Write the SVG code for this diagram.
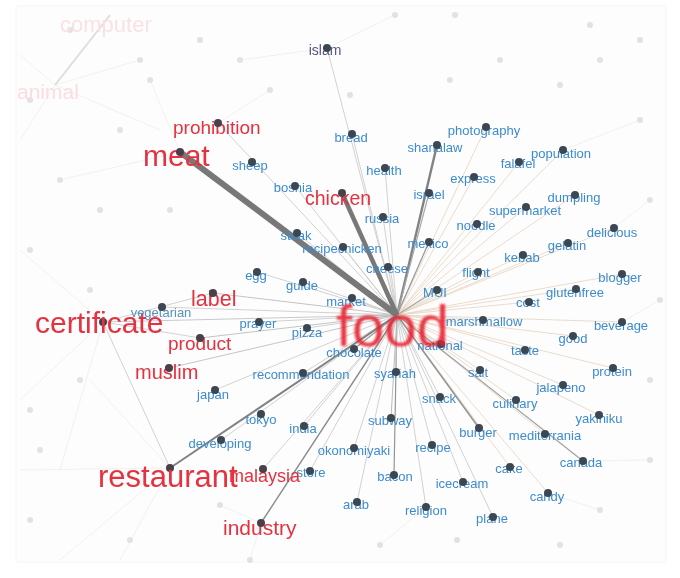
<svg xmlns="http://www.w3.org/2000/svg" width="680" height="578" viewBox="0 0 680 578">
<defs>
<style>
text{font-family:"Liberation Sans",Arial,sans-serif;}
.lb{fill:#3d8bcf;text-anchor:middle;font-size:13px;}
.lr{fill:#e5323f;}
.dot{fill:#3b4752;}
.rdot{fill:#4a4048;}
.bgd{fill:#e2e2e2;}
.bgl{stroke:#eeeeee;stroke-width:0.8;fill:none;}
.e{stroke:#c6c6c6;stroke-width:0.8;}
.et{stroke:#e6d3bf;stroke-width:0.8;}
.em{stroke:#959595;stroke-width:1.2;}
.ed{stroke:#828282;stroke-width:2;}
.eh{stroke:#787878;}
</style>
<filter id="blur1" x="-10%" y="-10%" width="120%" height="120%"><feGaussianBlur stdDeviation="1"/></filter>
<filter id="blur05" x="-5%" y="-5%" width="110%" height="110%"><feGaussianBlur stdDeviation="0.45"/></filter>
</defs>
<rect width="680" height="578" fill="#ffffff"/>
<rect x="16" y="6" width="650" height="556" fill="#fdfdfd" stroke="#f5f5f5"/>

<g id="background" filter="url(#blur05)">
<line class="bgl" x1="55" y1="85" x2="110" y2="15" style="stroke:#dedede;stroke-width:2"/>
<line class="bgl" x1="55" y1="85" x2="20" y2="55"/>
<line class="bgl" x1="55" y1="85" x2="160" y2="130"/>
<line class="bgl" x1="55" y1="85" x2="20" y2="140"/>
<line class="bgl" x1="55" y1="85" x2="140" y2="60"/>
<line class="bgl" x1="103" y1="322" x2="20" y2="250"/>
<line class="bgl" x1="103" y1="322" x2="20" y2="400"/>
<line class="bgl" x1="103" y1="322" x2="60" y2="470"/>
<line class="bgl" x1="170" y1="468" x2="60" y2="560"/>
<line class="bgl" x1="170" y1="468" x2="20" y2="470"/>
<line class="bgl" x1="170" y1="468" x2="120" y2="560"/>
<line class="bgl" x1="170" y1="468" x2="90" y2="380"/>
<line class="bgl" x1="180" y1="152" x2="60" y2="180"/>
<line class="bgl" x1="180" y1="152" x2="150" y2="80"/>
<line class="bgl" x1="218" y1="123" x2="270" y2="90"/>
<line class="bgl" x1="261" y1="523" x2="250" y2="560"/>
<line class="bgl" x1="261" y1="523" x2="220" y2="505"/>
<line class="bgl" x1="426" y1="507" x2="380" y2="545"/>
<line class="bgl" x1="548" y1="493" x2="600" y2="510"/>
<line class="bgl" x1="583" y1="461" x2="650" y2="460"/>
<line class="bgl" x1="622" y1="322" x2="660" y2="300"/>
<line class="bgl" x1="614" y1="228" x2="650" y2="200"/>
<line class="bgl" x1="563" y1="150" x2="640" y2="120"/>
<line class="bgl" x1="327" y1="48" x2="395" y2="15"/>
<line class="bgl" x1="327" y1="48" x2="240" y2="60"/>
<circle class="bgd" cx="70" cy="30" r="3"/>
<circle class="bgd" cx="30" cy="100" r="3"/>
<circle class="bgd" cx="200" cy="40" r="3"/>
<circle class="bgd" cx="240" cy="60" r="3"/>
<circle class="bgd" cx="395" cy="15" r="3"/>
<circle class="bgd" cx="455" cy="15" r="3"/>
<circle class="bgd" cx="590" cy="25" r="3"/>
<circle class="bgd" cx="640" cy="40" r="3"/>
<circle class="bgd" cx="140" cy="60" r="3"/>
<circle class="bgd" cx="150" cy="80" r="3"/>
<circle class="bgd" cx="270" cy="90" r="3"/>
<circle class="bgd" cx="350" cy="95" r="3"/>
<circle class="bgd" cx="450" cy="80" r="3"/>
<circle class="bgd" cx="560" cy="85" r="3"/>
<circle class="bgd" cx="640" cy="120" r="3"/>
<circle class="bgd" cx="120" cy="130" r="3"/>
<circle class="bgd" cx="60" cy="180" r="3"/>
<circle class="bgd" cx="100" cy="210" r="3"/>
<circle class="bgd" cx="30" cy="250" r="3"/>
<circle class="bgd" cx="90" cy="290" r="3"/>
<circle class="bgd" cx="170" cy="210" r="3"/>
<circle class="bgd" cx="80" cy="380" r="3"/>
<circle class="bgd" cx="30" cy="410" r="3"/>
<circle class="bgd" cx="40" cy="450" r="3"/>
<circle class="bgd" cx="30" cy="520" r="3"/>
<circle class="bgd" cx="130" cy="540" r="3"/>
<circle class="bgd" cx="220" cy="505" r="3"/>
<circle class="bgd" cx="250" cy="560" r="3"/>
<circle class="bgd" cx="380" cy="545" r="3"/>
<circle class="bgd" cx="457" cy="540" r="3"/>
<circle class="bgd" cx="560" cy="545" r="3"/>
<circle class="bgd" cx="600" cy="510" r="3"/>
<circle class="bgd" cx="650" cy="460" r="3"/>
<circle class="bgd" cx="650" cy="380" r="3"/>
<circle class="bgd" cx="660" cy="300" r="3"/>
<circle class="bgd" cx="650" cy="200" r="3"/>
<circle class="bgd" cx="600" cy="60" r="3"/>
<circle class="bgd" cx="500" cy="60" r="3"/>
<text x="60" y="32" font-size="22" fill="#fbe1e3">computer</text>
<text x="17" y="99" font-size="21" fill="#fbdde0">animal</text>
</g>

<g id="connectors" filter="url(#blur05)">
<line class="e" x1="397" y1="315" x2="327" y2="48"/>
<line class="e" x1="397" y1="315" x2="218" y2="123"/>
<line class="e" x1="397" y1="315" x2="295" y2="186"/>
<line class="e" x1="397" y1="315" x2="352" y2="134"/>
<line class="e" x1="397" y1="315" x2="385" y2="168"/>
<line class="e" x1="397" y1="315" x2="297" y2="233"/>
<line class="e" x1="397" y1="315" x2="343" y2="247"/>
<line class="e" x1="397" y1="315" x2="383" y2="217"/>
<line class="e" x1="397" y1="315" x2="388" y2="267"/>
<line class="e" x1="397" y1="315" x2="257" y2="272"/>
<line class="e" x1="397" y1="315" x2="303" y2="282"/>
<line class="e" x1="397" y1="315" x2="352" y2="298"/>
<line class="e" x1="397" y1="315" x2="259" y2="322"/>
<line class="e" x1="397" y1="315" x2="307" y2="328"/>
<line class="e" x1="397" y1="315" x2="213" y2="293" style="stroke:#b5b5b5"/>
<line class="e" x1="397" y1="315" x2="162" y2="307"/>
<line class="e" x1="397" y1="315" x2="103" y2="322" style="stroke:#bdbdbd"/>
<line class="e" x1="397" y1="315" x2="200" y2="338" style="stroke:#b5b5b5"/>
<line class="e" x1="397" y1="315" x2="169" y2="368" style="stroke:#b8b8b8"/>
<line class="e" x1="397" y1="315" x2="215" y2="390"/>
<line class="e" x1="397" y1="315" x2="303" y2="373"/>
<line class="e" x1="397" y1="315" x2="354" y2="349" style="stroke:#9a9a9a;stroke-width:1.2"/>
<line class="e" x1="397" y1="315" x2="304" y2="426"/>
<line class="e" x1="397" y1="315" x2="221" y2="440"/>
<line class="e" x1="397" y1="315" x2="354" y2="448"/>
<line class="e" x1="397" y1="315" x2="310" y2="471"/>
<line class="e" x1="397" y1="315" x2="357" y2="502"/>
<line class="em" x1="397" y1="315" x2="394" y2="475"/>
<line class="e" x1="397" y1="315" x2="391" y2="418" style="stroke:#aaaaaa"/>
<line class="e" x1="397" y1="315" x2="396" y2="372"/>
<line class="e" x1="397" y1="315" x2="426" y2="507"/>
<line class="e" x1="397" y1="315" x2="432" y2="445"/>
<line class="e" x1="397" y1="315" x2="440" y2="397"/>
<line class="e" x1="397" y1="315" x2="463" y2="482"/>
<line class="e" x1="397" y1="315" x2="493" y2="517"/>
<line class="e" x1="397" y1="315" x2="263" y2="469"/>
<line class="et" x1="397" y1="315" x2="486" y2="127"/>
<line class="et" x1="397" y1="315" x2="519" y2="162"/>
<line class="et" x1="397" y1="315" x2="563" y2="150"/>
<line class="et" x1="397" y1="315" x2="474" y2="177"/>
<line class="et" x1="397" y1="315" x2="575" y2="195"/>
<line class="et" x1="397" y1="315" x2="526" y2="207"/>
<line class="et" x1="397" y1="315" x2="477" y2="224"/>
<line class="et" x1="397" y1="315" x2="614" y2="228"/>
<line class="et" x1="397" y1="315" x2="568" y2="243"/>
<line class="et" x1="397" y1="315" x2="523" y2="255"/>
<line class="et" x1="397" y1="315" x2="478" y2="272"/>
<line class="et" x1="397" y1="315" x2="622" y2="274"/>
<line class="et" x1="397" y1="315" x2="576" y2="289"/>
<line class="et" x1="397" y1="315" x2="529" y2="302"/>
<line class="et" x1="397" y1="315" x2="483" y2="320"/>
<line class="et" x1="397" y1="315" x2="622" y2="322"/>
<line class="et" x1="397" y1="315" x2="573" y2="336"/>
<line class="et" x1="397" y1="315" x2="441" y2="344"/>
<line class="et" x1="397" y1="315" x2="525" y2="350"/>
<line class="et" x1="397" y1="315" x2="613" y2="368"/>
<line class="et" x1="397" y1="315" x2="480" y2="370"/>
<line class="et" x1="397" y1="315" x2="563" y2="385"/>
<line class="et" x1="397" y1="315" x2="516" y2="400"/>
<line class="et" x1="397" y1="315" x2="599" y2="415"/>
<line class="et" x1="397" y1="315" x2="545" y2="434"/>
<line class="et" x1="397" y1="315" x2="510" y2="467"/>
<line class="et" x1="397" y1="315" x2="548" y2="493"/>
<line class="ed" x1="397" y1="315" x2="437" y2="145" style="stroke-width:2.4"/>
<line class="em" x1="397" y1="315" x2="429" y2="193" style="stroke:#a8a8a8"/>
<line class="em" x1="397" y1="315" x2="429" y2="242"/>
<line class="em" x1="397" y1="315" x2="437" y2="290" style="stroke:#a8a8a8"/>
<line class="em" x1="397" y1="315" x2="479" y2="428" style="stroke-width:1.6"/>
<line class="em" x1="397" y1="315" x2="583" y2="461" style="stroke:#a0a0a0"/>
<line class="ed" x1="397" y1="315" x2="170" y2="468"/>
<line class="em" x1="397" y1="315" x2="261" y2="523" style="stroke:#8a8a8a;stroke-width:1.4"/>
<line class="e" x1="103" y1="322" x2="213" y2="293"/>
<line class="e" x1="103" y1="322" x2="170" y2="468"/>
<line class="e" x1="103" y1="322" x2="200" y2="338"/>
<line class="eh" x1="397" y1="315" x2="180" y2="152" stroke-width="6"/>
<line class="eh" x1="397" y1="315" x2="342" y2="193" stroke-width="4.5"/>
</g>

<g id="nodes" filter="url(#blur05)">
<g id="n-islam"><text x="325" y="55" font-size="14" fill="#5b5580" text-anchor="middle">islam</text><circle class="dot" cx="327" cy="48" r="4"/></g>
<g id="n-bread"><text class="lb" x="351" y="142" font-size="14.5">bread</text><circle class="dot" cx="352" cy="134" r="4"/></g>
<g id="n-sharialaw"><text class="lb" x="435" y="152">sharialaw</text><circle class="dot" cx="437" cy="145" r="4"/></g>
<g id="n-photography"><text class="lb" x="484" y="135" font-size="13.5">photography</text><circle class="dot" cx="486" cy="127" r="4"/></g>
<g id="n-health"><text class="lb" x="384" y="175">health</text><circle class="dot" cx="385" cy="168" r="4"/></g>
<g id="n-falafel"><text class="lb" x="518" y="168">falafel</text><circle class="dot" cx="519" cy="162" r="4"/></g>
<g id="n-population"><text class="lb" x="561" y="158">population</text><circle class="dot" cx="563" cy="150" r="4"/></g>
<g id="n-express"><text class="lb" x="473" y="183">express</text><circle class="dot" cx="474" cy="177" r="4"/></g>
<g id="n-israel"><text class="lb" x="429" y="199">israel</text><circle class="dot" cx="429" cy="193" r="4"/></g>
<g id="n-dumpling"><text class="lb" x="574" y="202">dumpling</text><circle class="dot" cx="575" cy="195" r="4"/></g>
<g id="n-supermarket"><text class="lb" x="525" y="215" font-size="12">supermarket</text><circle class="dot" cx="526" cy="207" r="4"/></g>
<g id="n-russia"><text class="lb" x="382" y="223">russia</text><circle class="dot" cx="383" cy="217" r="4"/></g>
<g id="n-noodle"><text class="lb" x="476" y="230">noodle</text><circle class="dot" cx="477" cy="224" r="4"/></g>
<g id="n-delicious"><text class="lb" x="612" y="237" font-size="14">delicious</text><circle class="dot" cx="614" cy="228" r="4"/></g>
<g id="n-gelatin"><text class="lb" x="567" y="250">gelatin</text><circle class="dot" cx="568" cy="243" r="4"/></g>
<g id="n-mexico"><text class="lb" x="428" y="248" font-size="14.5">mexico</text><circle class="dot" cx="429" cy="242" r="4"/></g>
<g id="n-kebab"><text class="lb" x="522" y="262">kebab</text><circle class="dot" cx="523" cy="255" r="4"/></g>
<g id="n-steak"><text class="lb" x="296" y="240">steak</text><circle class="dot" cx="297" cy="233" r="4"/></g>
<g id="n-recipechicken"><text class="lb" x="342" y="253">recipechicken</text><circle class="dot" cx="343" cy="247" r="4"/></g>
<g id="n-cheese"><text class="lb" x="387" y="273">cheese</text><circle class="dot" cx="388" cy="267" r="4"/></g>
<g id="n-flight"><text class="lb" x="476" y="277">flight</text><circle class="dot" cx="478" cy="272" r="4"/></g>
<g id="n-blogger"><text class="lb" x="620" y="282">blogger</text><circle class="dot" cx="622" cy="274" r="4"/></g>
<g id="n-glutenfree"><text class="lb" x="575" y="297" font-size="12.5">glutenfree</text><circle class="dot" cx="576" cy="289" r="4"/></g>
<g id="n-mui"><text class="lb" x="435" y="297">MUI</text><circle class="dot" cx="437" cy="290" r="4"/></g>
<g id="n-cost"><text class="lb" x="528" y="307">cost</text><circle class="dot" cx="529" cy="302" r="4"/></g>
<g id="n-marshmallow"><text class="lb" x="484" y="326">marshmallow</text><circle class="dot" cx="483" cy="320" r="4"/></g>
<g id="n-beverage"><text class="lb" x="621" y="330" font-size="14">beverage</text><circle class="dot" cx="622" cy="322" r="4"/></g>
<g id="n-good"><text class="lb" x="573" y="343">good</text><circle class="dot" cx="573" cy="336" r="4"/></g>
<g id="n-national"><text class="lb" x="440" y="350">national</text><circle class="dot" cx="441" cy="344" r="4"/></g>
<g id="n-taste"><text class="lb" x="525" y="355">taste</text><circle class="dot" cx="525" cy="350" r="4"/></g>
<g id="n-protein"><text class="lb" x="612" y="376">protein</text><circle class="dot" cx="613" cy="368" r="4"/></g>
<g id="n-salt"><text class="lb" x="478" y="377">salt</text><circle class="dot" cx="480" cy="370" r="4"/></g>
<g id="n-jalapeno"><text class="lb" x="561" y="392">jalapeno</text><circle class="dot" cx="563" cy="385" r="4"/></g>
<g id="n-snack"><text class="lb" x="439" y="403">snack</text><circle class="dot" cx="440" cy="397" r="4"/></g>
<g id="n-culinary"><text class="lb" x="515" y="408">culinary</text><circle class="dot" cx="516" cy="400" r="4"/></g>
<g id="n-yakiniku"><text class="lb" x="599" y="423">yakiniku</text><circle class="dot" cx="599" cy="415" r="4"/></g>
<g id="n-burger"><text class="lb" x="478" y="437">burger</text><circle class="dot" cx="479" cy="428" r="4"/></g>
<g id="n-mediterrania"><text class="lb" x="545" y="440" font-size="12">mediterrania</text><circle class="dot" cx="545" cy="434" r="4"/></g>
<g id="n-recipe"><text class="lb" x="433" y="452">recipe</text><circle class="dot" cx="432" cy="445" r="4"/></g>
<g id="n-canada"><text class="lb" x="581" y="467">canada</text><circle class="dot" cx="583" cy="461" r="4"/></g>
<g id="n-cake"><text class="lb" x="509" y="473">cake</text><circle class="dot" cx="510" cy="467" r="4"/></g>
<g id="n-bacon"><text class="lb" x="395" y="481">bacon</text><circle class="dot" cx="394" cy="475" r="4"/></g>
<g id="n-icecream"><text class="lb" x="462" y="488">icecream</text><circle class="dot" cx="463" cy="482" r="4"/></g>
<g id="n-candy"><text class="lb" x="547" y="501">candy</text><circle class="dot" cx="548" cy="493" r="4"/></g>
<g id="n-religion"><text class="lb" x="426" y="515" font-size="15.5">religion</text><circle class="dot" cx="426" cy="507" r="4"/></g>
<g id="n-plane"><text class="lb" x="492" y="523">plane</text><circle class="dot" cx="493" cy="517" r="4"/></g>
<g id="n-arab"><text class="lb" x="356" y="509" font-size="14">arab</text><circle class="dot" cx="357" cy="502" r="4"/></g>
<g id="n-okonomiyaki"><text class="lb" x="354" y="455">okonomiyaki</text><circle class="dot" cx="354" cy="448" r="4"/></g>
<g id="n-subway"><text class="lb" x="390" y="425">subway</text><circle class="dot" cx="391" cy="418" r="4"/></g>
<g id="n-syariah"><text class="lb" x="395" y="378">syariah</text><circle class="dot" cx="396" cy="372" r="4"/></g>
<g id="n-recommendation"><text class="lb" x="301" y="379" font-size="14">recommendation</text><circle class="dot" cx="303" cy="373" r="4"/></g>
<g id="n-chocolate"><text class="lb" x="354" y="357" font-size="12.5">chocolate</text><circle class="dot" cx="354" cy="349" r="4"/></g>
<g id="n-market"><text class="lb" x="346" y="306">market</text><circle class="dot" cx="352" cy="298" r="4"/></g>
<g id="n-pizza"><text class="lb" x="307" y="337">pizza</text><circle class="dot" cx="307" cy="328" r="4"/></g>
<g id="n-prayer"><text class="lb" x="258" y="328" font-size="13.5">prayer</text><circle class="dot" cx="259" cy="322" r="4"/></g>
<g id="n-guide"><text class="lb" x="302" y="290">guide</text><circle class="dot" cx="303" cy="282" r="4"/></g>
<g id="n-egg"><text class="lb" x="256" y="280">egg</text><circle class="dot" cx="257" cy="272" r="4"/></g>
<g id="n-india"><text class="lb" x="303" y="433">india</text><circle class="dot" cx="304" cy="426" r="4"/></g>
<g id="n-store"><text class="lb" x="311" y="477">store</text><circle class="dot" cx="310" cy="471" r="4"/></g>
<g id="n-tokyo"><text class="lb" x="261" y="424" font-size="15">tokyo</text><circle class="dot" cx="261" cy="414" r="4"/></g>
<g id="n-developing"><text class="lb" x="220" y="448" font-size="14">developing</text><circle class="dot" cx="221" cy="440" r="4"/></g>
<g id="n-japan"><text class="lb" x="213" y="399" font-size="15.5">japan</text><circle class="dot" cx="215" cy="390" r="4"/></g>
<g id="n-sheep"><text class="lb" x="250" y="170">sheep</text><circle class="dot" cx="252" cy="162" r="4"/></g>
<g id="n-bosnia"><text class="lb" x="293" y="192">bosnia</text><circle class="dot" cx="295" cy="186" r="4"/></g>
<g id="n-certificate"><circle class="rdot" cx="103" cy="322" r="4"/><text class="lr" x="35" y="333" font-size="30">certificate</text></g>
<g id="n-vegetarian"><text class="lb" x="161" y="317" font-size="16" style="fill:#5a8fbf">vegetarian</text><circle class="dot" cx="162" cy="307" r="4"/></g>
<g id="n-meat"><text class="lr" x="143" y="166" font-size="30">meat</text><circle class="rdot" cx="180" cy="152" r="4"/></g>
<g id="n-prohibition"><text class="lr" x="173" y="134" font-size="19">prohibition</text><circle class="rdot" cx="218" cy="123" r="4"/></g>
<g id="n-chicken"><text class="lr" x="305" y="205" font-size="19.5">chicken</text><circle class="rdot" cx="342" cy="193" r="4"/></g>
<g id="n-label"><text class="lr" x="191" y="306" font-size="21.5">label</text><circle class="rdot" cx="213" cy="293" r="4"/></g>
<g id="n-product"><text class="lr" x="168" y="350" font-size="19">product</text><circle class="rdot" cx="200" cy="338" r="4"/></g>
<g id="n-muslim"><text class="lr" x="135" y="379" font-size="20">muslim</text><circle class="rdot" cx="169" cy="368" r="4"/></g>
<g id="n-restaurant"><circle class="rdot" cx="170" cy="468" r="4"/><text class="lr" x="98" y="487" font-size="31">restaurant</text></g>
<g id="n-malaysia"><text class="lr" x="229" y="482" font-size="18">malaysia</text><circle class="rdot" cx="263" cy="469" r="4"/></g>
<g id="n-industry"><text class="lr" x="223" y="535" font-size="21">industry</text><circle class="rdot" cx="261" cy="523" r="4"/></g>
</g>
<g id="n-food"><text x="336" y="346" font-size="58" fill="#e8212d" fill-opacity="0.88" filter="url(#blur1)">food</text></g>
</svg>
